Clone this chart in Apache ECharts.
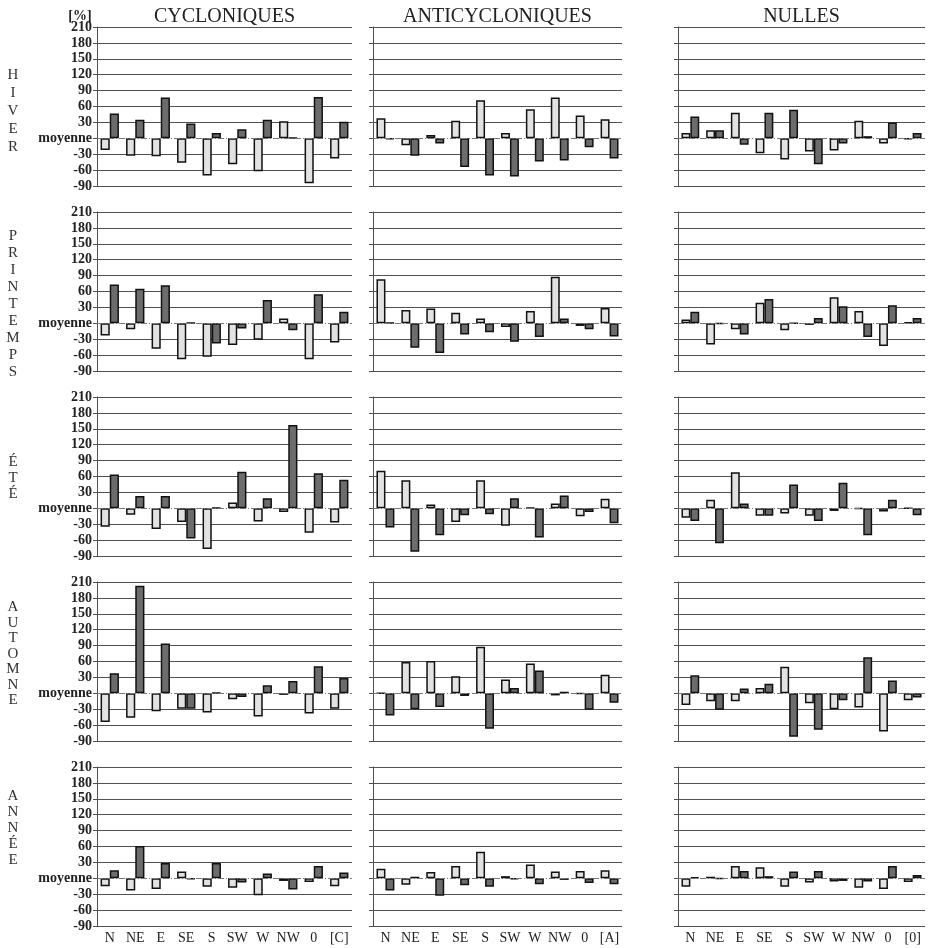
<!DOCTYPE html>
<html><head><meta charset="utf-8">
<script src="https://cdn.jsdelivr.net/npm/echarts@6/dist/echarts.min.js"></script>
<style>html,body{margin:0;padding:0;background:#fff}#c{width:938px;height:948px}</style>
</head><body><div id="c"></div><script>
const directions = ['N','NE','E','SE','S','SW','W','NW','0'];
const lastCats = ['[C]','[A]','[0]'];
const colTitles = ['CYCLONIQUES','ANTICYCLONIQUES','NULLES'];
const rowNames = ['HIVER','PRINTEMPS','ÉTÉ','AUTOMNE','ANNÉE'];
const yMin = -90, yMax = 210, yStep = 30;

// HIVER
const hiverCycL = [-22,-33,-34,-46,-70,-49,-62,32,-85,-38];
const hiverCycD = [47,35,77,28,10,17,35,1,78,31];
const hiverAntL = [38,-13,6,33,72,10,55,77,43,36];
const hiverAntD = [-2,-33,-10,-54,-70,-72,-44,-42,-17,-38];
const hiverNulL = [10,15,48,-28,-40,-25,-23,33,-10,-2];
const hiverNulD = [41,15,-12,48,54,-49,-10,4,30,10];
// PRINTEMPS
const printCycL = [-23,-11,-48,-68,-63,-41,-31,9,-68,-36];
const printCycD = [73,65,72,1,-38,-10,44,-13,55,22];
const printAntL = [83,25,28,20,9,-7,23,88,-5,29];
const printAntD = [1,-46,-56,-21,-17,-35,-26,9,-11,-25];
const printNulL = [7,-40,-11,39,-13,-3,49,23,-43,2];
const printNulD = [22,-1,-21,46,0,10,32,-26,34,10];
// ÉTÉ
const eteCycL = [-35,-12,-39,-26,-77,11,-25,-7,-46,-27];
const eteCycD = [64,23,23,-57,1,69,19,157,66,54];
const eteAntL = [71,53,7,-26,53,-33,1,9,-15,18];
const eteAntD = [-36,-82,-51,-13,-11,19,-55,24,-7,-28];
const eteNulL = [-18,16,68,-14,-10,-14,-5,-1,-6,0];
const eteNulD = [-24,-66,9,-14,45,-24,48,-51,16,-13];
// AUTOMNE
const autCycL = [-54,-46,-34,-29,-36,-11,-44,-3,-38,-29];
const autCycD = [38,203,94,-29,1,-7,15,23,51,29];
const autAntL = [0,59,61,32,88,26,56,-4,-1,35];
const autAntD = [-42,-30,-26,-5,-67,10,43,3,-31,-18];
const autNulL = [-22,-15,-15,10,50,-19,-30,-27,-72,-13];
const autNulD = [34,-31,9,18,-82,-69,-13,68,24,-8];
// ANNÉE
const anCycL = [-15,-23,-20,13,-16,-18,-32,-5,-7,-15];
const anCycD = [15,61,29,-2,29,-8,9,-21,23,11];
const anAntL = [18,-12,12,23,50,4,26,13,14,15];
const anAntD = [-23,3,-33,-13,-16,-2,-11,-3,-9,-11];
const anNulL = [-16,3,23,21,-16,-8,-6,-18,-20,-7];
const anNulD = [2,-1,14,4,13,14,-5,-6,23,6];

const panels = [
  [[hiverCycL,hiverCycD],[hiverAntL,hiverAntD],[hiverNulL,hiverNulD]],
  [[printCycL,printCycD],[printAntL,printAntD],[printNulL,printNulD]],
  [[eteCycL,eteCycD],[eteAntL,eteAntD],[eteNulL,eteNulD]],
  [[autCycL,autCycD],[autAntL,autAntD],[autNulL,autNulD]],
  [[anCycL,anCycD],[anAntL,anAntD],[anNulL,anNulD]]
];

const colLeft = [97,373,678], colWidth = [255,249,247];
const rowTop = [27,212,397,582,767], rowH = 159;
const rowLabelY = [111,304,478,654,828], rowLabelLH = [18,17,16,15.5,16];
const serif = '"Liberation Serif", "DejaVu Serif", serif';

const nTicks = (yMax - yMin) / yStep + 1;
const splitColors = [];
for (let i = 0; i < nTicks; i++) splitColors.push(yMin + i*yStep === 0 ? 'rgba(0,0,0,0)' : '#505050');

const grid = [], xAxis = [], yAxis = [], series = [];
let idx = 0;
for (let r = 0; r < 5; r++) {
  for (let c = 0; c < 3; c++) {
    grid.push({left: colLeft[c], top: rowTop[r], width: colWidth[c], height: rowH});
    xAxis.push({
      type: 'category', gridIndex: idx, data: directions.concat([lastCats[c]]),
      axisLine: {show: false}, axisTick: {show: false},
      axisLabel: {show: r === 4, fontFamily: serif, fontSize: 14, color: '#222', margin: 5, interval: 0},
      splitLine: {show: false}
    });
    yAxis.push({
      type: 'value', gridIndex: idx, min: yMin, max: yMax, interval: yStep,
      axisLine: {show: true, lineStyle: {color: '#505050', width: 1}},
      axisTick: {show: true, length: 4, lineStyle: {color: '#505050'}},
      axisLabel: {show: c === 0, fontFamily: serif, fontWeight: 'bold', fontSize: 14, color: '#222', margin: 5,
        formatter: v => v === 0 ? 'moyenne' : String(v)},
      splitLine: {show: true, showMinLine: true, showMaxLine: true, lineStyle: {color: splitColors, width: 1}}
    });
    const [L, D] = panels[r][c];
    series.push({
      type: 'bar', xAxisIndex: idx, yAxisIndex: idx, data: L,
      barWidth: '36%', barGap: '0%',
      itemStyle: {color: '#e2e2e2', borderColor: '#111', borderWidth: 1.5},
      markLine: {silent: true, symbol: 'none', label: {show: false},
        lineStyle: {color: '#777', type: [6,2,1,2], width: 1.2}, data: [{yAxis: 0}]},
      animation: false
    });
    series.push({
      type: 'bar', xAxisIndex: idx, yAxisIndex: idx, data: D,
      barWidth: '36%', barGap: '0%',
      itemStyle: {color: '#6c6c6c', borderColor: '#111', borderWidth: 1.5},
      animation: false
    });
    idx++;
  }
}

const graphic = [];
for (let c = 0; c < 3; c++) {
  graphic.push({type: 'text', x: colLeft[c] + colWidth[c]/2, y: 17,
    style: {text: colTitles[c], font: '20px ' + serif, fill: '#222', align: 'center', verticalAlign: 'middle'}});
}
graphic.push({type: 'text', x: 80, y: 16,
  style: {text: '[%]', font: 'bold 14px ' + serif, fill: '#222', align: 'center', verticalAlign: 'middle'}});
for (let r = 0; r < 5; r++) {
  graphic.push({type: 'text', x: 13, y: rowLabelY[r],
    style: {text: Array.from(rowNames[r]).join('\n'), font: '15px ' + serif, fill: '#333',
      lineHeight: rowLabelLH[r], align: 'center', verticalAlign: 'middle'}});
}

const chart = echarts.init(document.getElementById('c'), null, {renderer: 'canvas'});
chart.setOption({animation: false, backgroundColor: '#fff', grid, xAxis, yAxis, series, graphic});
</script></body></html>
